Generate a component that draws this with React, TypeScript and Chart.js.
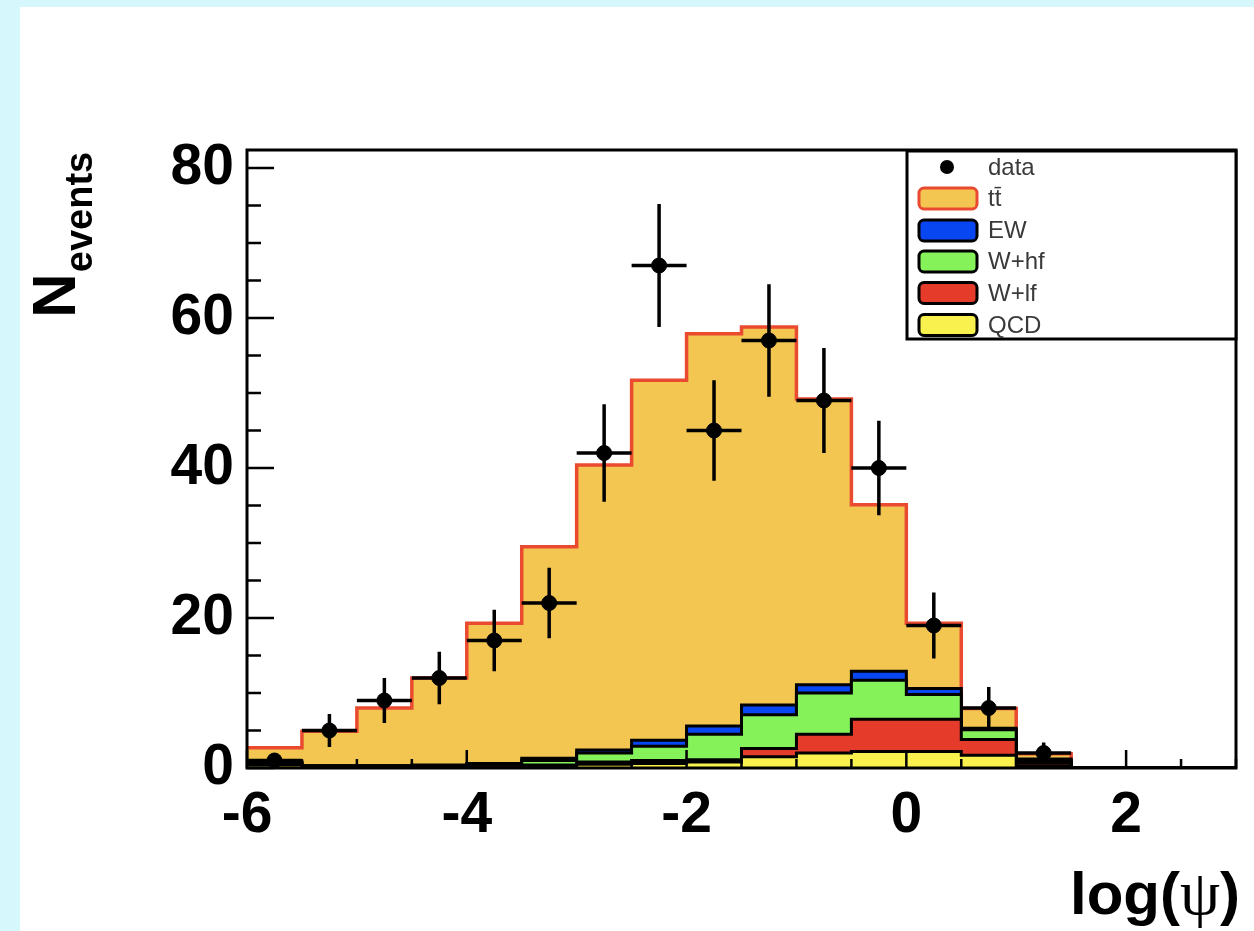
import React, { useEffect, useRef } from 'react';
import { Chart, registerables } from 'chart.js';

Chart.register(...registerables);

// Bin edges of the histogram (log(psi)), width 0.5
const binEdges = [-6, -5.5, -5, -4.5, -4, -3.5, -3, -2.5, -2, -1.5, -1, -0.5, 0, 0.5, 1, 1.5, 2, 2.5, 3];
const binCenters = [-5.75, -5.25, -4.75, -4.25, -3.75, -3.25, -2.75, -2.25, -1.75, -1.25, -0.75, -0.25, 0.25, 0.75, 1.25, 1.75, 2.25, 2.75];

// Stacked backgrounds (bottom to top)
const qcd = [0.4, 0.1, 0.1, 0.1, 0.1, 0.2, 0.5, 0.6, 0.8, 1.5, 2.0, 2.2, 2.2, 1.7, 0.3, 0, 0, 0];
const wlf = [0.2, 0.1, 0.1, 0.1, 0.1, 0.2, 0.3, 0.4, 0.3, 1.1, 2.5, 4.3, 4.3, 2.1, 0.4, 0, 0, 0];
const whf = [0.1, 0.1, 0.1, 0.1, 0.2, 0.6, 1.2, 1.9, 3.4, 4.5, 5.5, 5.2, 3.3, 1.3, 0.3, 0, 0, 0];
const ew = [0.1, 0, 0, 0.1, 0.2, 0.3, 0.4, 0.8, 1.1, 1.3, 1.1, 1.2, 0.8, 0.2, 0.2, 0, 0, 0];
const ttbar = [1.9, 4.6, 7.7, 11.6, 18.7, 28.2, 38.0, 48.0, 52.3, 50.4, 38.1, 22.2, 8.7, 2.65, 0.7, 0, 0, 0];

// Observed data with errors
const dataCounts: (number | null)[] = [1, 5, 9, 12, 17, 22, 42, 67, 45, 57, 49, 40, 19, 8, 2, null, null, null];
const dataErrors = [1, 2.2, 3, 3.5, 4.1, 4.7, 6.5, 8.2, 6.7, 7.5, 7, 6.3, 4.4, 2.8, 1.4, 0, 0, 0];

const xTickValues = [-6, -4, -2, 0, 2];
const yTickValues = [0, 20, 40, 60, 80];

const labels = ['data', 'tt\u0304', 'EW', 'W+hf', 'W+lf', 'QCD'];

const FONT = '"Liberation Sans", Arial, Helvetica, sans-serif';

function stepPoints(vals: number[]) {
  const pts = vals.map((v, i) => ({ x: binEdges[i], y: v }));
  pts.push({ x: binEdges[binEdges.length - 1], y: vals[vals.length - 1] });
  return pts;
}

const decorPlugin = {
  id: 'decor',
  beforeDraw(chart: any) {
    const { ctx, width, height } = chart;
    ctx.save();
    ctx.fillStyle = '#ffffff';
    ctx.fillRect(0, 0, width, height);
    ctx.fillStyle = '#d6f7fb';
    ctx.fillRect(0, 0, width, 7);
    ctx.fillRect(0, 0, 20, height);
    ctx.restore();
  },
  afterDatasetsDraw(chart: any) {
    const { ctx } = chart;
    const x = chart.scales.x;
    const y = chart.scales.y;
    ctx.save();
    ctx.strokeStyle = '#000';
    ctx.lineWidth = 3.5;
    dataCounts.forEach((v, i) => {
      if (v == null) return;
      const cx = x.getPixelForValue(binCenters[i]);
      const cy = y.getPixelForValue(v);
      const e = dataErrors[i];
      ctx.beginPath();
      ctx.moveTo(x.getPixelForValue(binEdges[i]), cy);
      ctx.lineTo(x.getPixelForValue(binEdges[i + 1]), cy);
      ctx.moveTo(cx, y.getPixelForValue(v + e));
      ctx.lineTo(cx, y.getPixelForValue(Math.max(0, v - e)));
      ctx.stroke();
    });
    ctx.restore();
  },
  afterDraw(chart: any) {
    const { ctx, chartArea } = chart;
    const x = chart.scales.x;
    const y = chart.scales.y;
    const { left, right, top, bottom } = chartArea;
    ctx.save();
    // ticks inside
    ctx.strokeStyle = '#000';
    ctx.lineWidth = 2.5;
    ctx.beginPath();
    for (let v = -6; v <= 3.001; v += 0.5) {
      const px = x.getPixelForValue(v);
      const major = Math.abs(v / 2 - Math.round(v / 2)) < 1e-6;
      ctx.moveTo(px, bottom);
      ctx.lineTo(px, bottom - (major ? 18 : 9));
    }
    for (let v = 0; v <= 82; v += 5) {
      const py = y.getPixelForValue(v);
      const major = v % 20 === 0;
      ctx.moveTo(left, py);
      ctx.lineTo(left + (major ? 27 : 14), py);
    }
    ctx.stroke();
    // frame
    ctx.lineWidth = 3;
    ctx.strokeRect(left, top, right - left, bottom - top);

    // legend
    const lx0 = 907, ly0 = 151, lx1 = right, ly1 = 339;
    ctx.fillStyle = '#fff';
    ctx.fillRect(lx0, ly0, lx1 - lx0, ly1 - ly0);
    ctx.lineWidth = 3;
    ctx.strokeStyle = '#000';
    ctx.strokeRect(lx0, ly0, lx1 - lx0, ly1 - ly0);
    const rows = [167, 198.5, 230.5, 261.5, 293, 325];
    const dsOrder = [0, 5, 4, 3, 2, 1];
    ctx.font = `24px ${FONT}`;
    ctx.textBaseline = 'middle';
    ctx.textAlign = 'left';
    rows.forEach((ry, i) => {
      const ds = chart.data.datasets[dsOrder[i]];
      if (i === 0) {
        ctx.fillStyle = '#000';
        ctx.beginPath();
        ctx.arc(947, ry, 7, 0, Math.PI * 2);
        ctx.fill();
      } else {
        ctx.beginPath();
        (ctx as any).roundRect(919, ry - 10.5, 58, 21, 5);
        ctx.fillStyle = ds.backgroundColor;
        ctx.fill();
        ctx.lineWidth = 3;
        ctx.strokeStyle = ds.borderColor;
        ctx.stroke();
      }
      ctx.fillStyle = '#3a3a3a';
      ctx.fillText(labels[i], 988, ry + 1);
    });

    // y title: N_events
    ctx.fillStyle = '#000';
    ctx.save();
    ctx.translate(75, 318);
    ctx.rotate(-Math.PI / 2);
    ctx.textBaseline = 'alphabetic';
    ctx.font = `bold 62px ${FONT}`;
    ctx.fillText('N', 0, 0);
    const nW = ctx.measureText('N').width;
    ctx.font = `bold 38px ${FONT}`;
    ctx.fillText('events', nW + 1, 17);
    ctx.restore();

    // x title: log(psi)
    ctx.textBaseline = 'alphabetic';
    const base = 914;
    ctx.font = `bold 60px ${FONT}`;
    const wClose = ctx.measureText(')').width;
    const wOpen = ctx.measureText('log(').width;
    ctx.font = `64px "Liberation Serif", "DejaVu Serif", serif`;
    const wPsi = ctx.measureText('\u03c8').width;
    let xx = 1240 - wClose - wPsi - wOpen;
    ctx.font = `bold 60px ${FONT}`;
    ctx.fillText('log(', xx, base);
    xx += wOpen;
    ctx.font = `64px "Liberation Serif", "DejaVu Serif", serif`;
    ctx.fillText('\u03c8', xx, base);
    xx += wPsi;
    ctx.font = `bold 60px ${FONT}`;
    ctx.fillText(')', xx, base);
    ctx.restore();
  },
};

export default function App() {
  const ref = useRef<HTMLCanvasElement | null>(null);
  useEffect(() => {
    document.body.style.margin = '0';
    const canvas = ref.current!;
    const histStyle = (label: string, vals: number[], fill: string, line: string, fillMode: any, lw = 3) => ({
      type: 'line' as const,
      label,
      data: stepPoints(vals),
      stepped: 'before' as const,
      backgroundColor: fill,
      borderColor: line,
      borderWidth: lw,
      pointRadius: 0,
      fill: fillMode,
      order: 1,
      stack: 'mc',
    });
    const chart = new Chart(canvas, {
      type: 'line',
      data: {
        datasets: [
          {
            type: 'line',
            label: 'data',
            data: dataCounts.map((v, i) => ({ x: binCenters[i], y: v })) as any,
            showLine: false,
            pointRadius: 7.5,
            pointBackgroundColor: '#000',
            pointBorderColor: '#000',
            borderColor: '#000',
            backgroundColor: '#000',
            order: 0,
            stack: 'data',
          } as any,
          histStyle('QCD', qcd, '#f9f24e', '#000', 'origin'),
          histStyle('W+lf', wlf, '#e53b2b', '#000', '-1'),
          histStyle('W+hf', whf, '#86f25a', '#000', '-1'),
          histStyle('EW', ew, '#0846f2', '#000', '-1'),
          histStyle('tt\u0304', ttbar, '#f2c651', '#ea4a30', '-1', 3.5),
        ],
      },
      options: {
        animation: false,
        responsive: false,
        devicePixelRatio: 1,
        layout: { padding: { top: 150, right: 18, left: 0, bottom: 0 } },
        plugins: { legend: { display: false }, tooltip: { enabled: false } },
        scales: {
          x: {
            type: 'linear',
            min: -6,
            max: 3,
            grid: { display: false, drawTicks: false },
            border: { display: false },
            afterBuildTicks: (s: any) => { s.ticks = xTickValues.map((v) => ({ value: v })); },
            afterFit: (s: any) => { s.height = 163; },
            ticks: {
              color: '#000',
              padding: 14,
              maxRotation: 0,
              autoSkip: false,
              font: { family: FONT, weight: 'bold', size: 57 },
            },
          },
          y: {
            type: 'linear',
            min: 0,
            max: 82.4,
            stacked: true,
            grid: { display: false, drawTicks: false },
            border: { display: false },
            afterBuildTicks: (s: any) => { s.ticks = yTickValues.map((v) => ({ value: v })); },
            afterFit: (s: any) => { s.width = 247; },
            ticks: {
              color: '#000',
              padding: 13,
              autoSkip: false,
              font: { family: FONT, weight: 'bold', size: 57 },
            },
          },
        },
      },
      plugins: [decorPlugin],
    } as any);
    return () => chart.destroy();
  }, []);
  return (
    <div style={{ position: 'fixed', left: 0, top: 0, width: 1254, height: 931 }}>
      <canvas ref={ref} width={1254} height={931} style={{ width: 1254, height: 931, display: 'block' }} />
    </div>
  );
}
